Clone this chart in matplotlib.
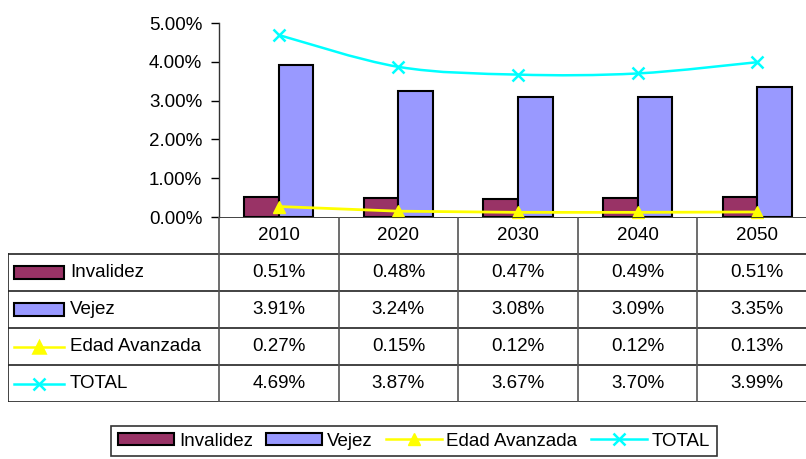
import numpy as np
import matplotlib.pyplot as plt
from matplotlib.path import Path
from matplotlib.patches import PathPatch, Patch
from matplotlib.lines import Line2D

plt.rcParams['font.family'] = ['Liberation Sans', 'DejaVu Sans']

years = ['2010', '2020', '2030', '2040', '2050']
invalidez = [0.51, 0.48, 0.47, 0.49, 0.51]
vejez = [3.91, 3.24, 3.08, 3.09, 3.35]
edad = [0.27, 0.15, 0.12, 0.12, 0.13]
total = [4.69, 3.87, 3.67, 3.70, 3.99]
names = ['Invalidez', 'Vejez', 'Edad Avanzada', 'TOTAL']

c_inv = '#993366'
c_vej = '#9999FF'
c_edad = '#FFFF00'
c_tot = '#00FFFF'
fs = 13.5

W, H = 806, 459
fig = plt.figure(figsize=(W / 100, H / 100), dpi=100)

def px_axes(x0, y0, x1, y1):
    return fig.add_axes([x0 / W, 1 - y1 / H, (x1 - x0) / W, (y1 - y0) / H])

# chart area
ax = px_axes(219, 23, 817, 217)
x = np.arange(len(years))
bw = 0.29
ax.bar(x - bw / 2, invalidez, bw, color=c_inv, edgecolor='black', linewidth=1.5, zorder=2)
ax.bar(x + bw / 2, vejez, bw, color=c_vej, edgecolor='black', linewidth=1.5, zorder=2)
ax.plot(x, edad, color=c_edad, lw=2, marker='^', ms=9, zorder=3, clip_on=False)

# smoothed TOTAL line
pts = np.column_stack([x, total]).astype(float)
ext = np.vstack([pts[0], pts, pts[-1]])
verts = [pts[0]]
codes = [Path.MOVETO]
for i in range(len(pts) - 1):
    p0, p1, p2, p3 = ext[i], ext[i + 1], ext[i + 2], ext[i + 3]
    verts += [p1 + (p2 - p0) / 6, p2 - (p3 - p1) / 6, p2]
    codes += [Path.CURVE4] * 3
ax.add_patch(PathPatch(Path(verts, codes), fill=False, edgecolor=c_tot, lw=1.8, zorder=3))
ax.plot(x, total, ls='none', marker='x', ms=9, mew=1.8, color=c_tot, zorder=4)

ax.set_xlim(-0.5, len(years) - 0.5)
ax.set_ylim(0, 5)
ax.set_yticks(np.arange(0, 6))
ax.set_yticklabels([f'{v:.2f}%' for v in range(6)], fontsize=fs)
ax.tick_params(axis='y', direction='out', length=6, width=1, pad=6)
ax.set_xticks([])
for s in ['top', 'right', 'bottom']:
    ax.spines[s].set_visible(False)
ax.spines['left'].set_linewidth(1)
ax.spines['left'].set_color('#333333')

# data table
tab = px_axes(8, 217, 817, 402)
lab_w = 211 / 119.6
tab.set_xlim(-0.5 - lab_w, len(years) - 0.5)
tab.set_ylim(5, 0)
tab.axis('off')
xl = -0.5 - lab_w
xr = len(years) - 0.5
lc = '#222222'
tab.plot([-0.5, xr], [0, 0], color=lc, lw=1.2)
for r in range(1, 6):
    tab.plot([xl, xr], [r, r], color=lc, lw=1.2)
tab.plot([xl, xl], [1, 5], color=lc, lw=1.2)
for c in range(len(years)):
    tab.plot([c - 0.5, c - 0.5], [0, 5], color='#555555', lw=1.2)
for c, yv in enumerate(years):
    tab.text(c, 0.5, yv, ha='center', va='center', fontsize=fs)
series = [invalidez, vejez, edad, total]
for r, vals in enumerate(series):
    for c, v in enumerate(vals):
        tab.text(c, r + 1.5, f'{v:.2f}%', ha='center', va='center', fontsize=fs)

# legend keys inside the table
kx0 = xl + 6 / 119.6
kx1 = xl + 56 / 119.6
for r, (name, col) in enumerate(zip(names, [c_inv, c_vej, c_edad, c_tot])):
    yc = r + 1.5
    if r < 2:
        tab.add_patch(plt.Rectangle((kx0, yc - 0.17), kx1 - kx0, 0.34,
                                    facecolor=col, edgecolor='black', lw=1.5))
    else:
        mk = '^' if r == 2 else 'x'
        tab.plot([kx0, kx1], [yc, yc], color=col, lw=1.8)
        tab.plot([(kx0 + kx1) / 2], [yc], marker=mk, color=col, ms=9, mew=1.8)
    tab.text(xl + 62 / 119.6, yc, name, ha='left', va='center', fontsize=fs)

# bottom legend
handles = [
    Patch(facecolor=c_inv, edgecolor='black', lw=1.5),
    Patch(facecolor=c_vej, edgecolor='black', lw=1.5),
    Line2D([], [], color=c_edad, lw=1.8, marker='^', ms=9),
    Line2D([], [], color=c_tot, lw=1.8, marker='x', ms=9, mew=1.8),
]
leg = fig.legend(handles, names, loc='center', ncol=4, fontsize=fs,
                 bbox_to_anchor=(414 / W, 1 - 441 / H), frameon=True, fancybox=False,
                 edgecolor='black', handlelength=3.0, handleheight=0.6,
                 handletextpad=0.25, columnspacing=0.7, borderpad=0.35, borderaxespad=0)
leg.get_frame().set_linewidth(1.2)

fig.savefig('out.png', dpi=100)
